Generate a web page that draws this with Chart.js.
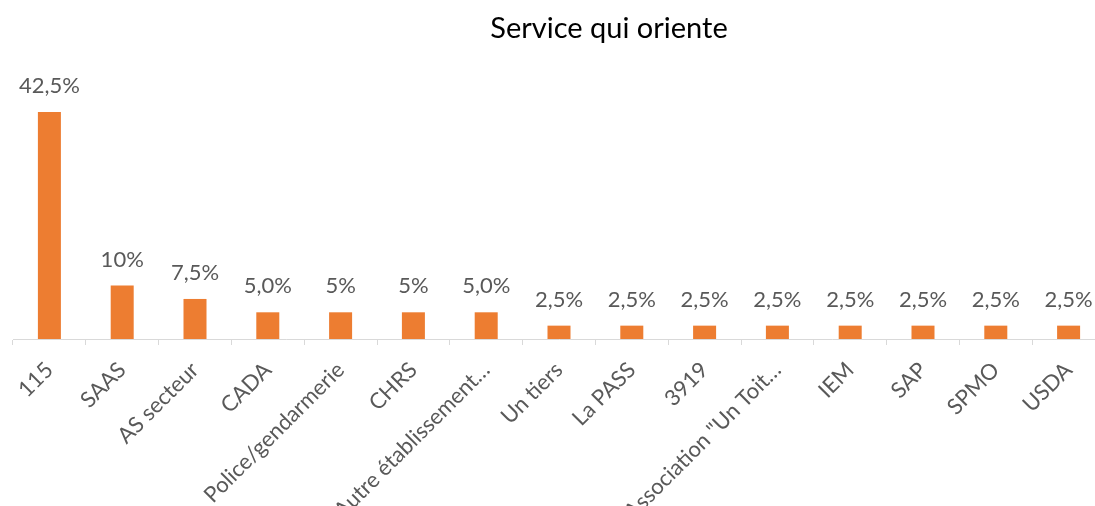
<!DOCTYPE html>
<html>
<head>
<meta charset="utf-8">
<script src="https://cdn.jsdelivr.net/npm/chart.js@4.4.0/dist/chart.umd.min.js"></script>
<style>
  html, body { margin: 0; padding: 0; background: #fff; overflow: hidden; }
  #wrap { width: 1095px; height: 506px; overflow: hidden; }
</style>
</head>
<body>
<div id="wrap"><canvas id="myChart" width="1110" height="506"></canvas></div>
<script>
var chartTitle = 'Service qui oriente';
var categories = ['115', 'SAAS', 'AS secteur', 'CADA', 'Police/gendarmerie', 'CHRS',
  'Autre établissement…', 'Un tiers', 'La PASS', '3919', 'Association "Un Toit…',
  'IEM', 'SAP', 'SPMO', 'USDA'];
var values = [42.5, 10, 7.5, 5, 5, 5, 5, 2.5, 2.5, 2.5, 2.5, 2.5, 2.5, 2.5, 2.5];
var valueLabels = ['42,5%', '10%', '7,5%', '5,0%', '5%', '5%', '5,0%', '2,5%', '2,5%',
  '2,5%', '2,5%', '2,5%', '2,5%', '2,5%', '2,5%'];

var FONT = 'Lato, "Open Sans", sans-serif';

// labels above each bar
var barLabels = {
  id: 'barLabels',
  afterDatasetsDraw: function(chart) {
    var ctx = chart.ctx;
    var meta = chart.getDatasetMeta(0);
    ctx.save();
    ctx.font = '22px ' + FONT;
    ctx.fillStyle = '#595959';
    ctx.textAlign = 'center';
    ctx.textBaseline = 'alphabetic';
    meta.data.forEach(function(bar, i) {
      ctx.fillText(valueLabels[i], bar.x, bar.y - 19);
    });
    ctx.restore();
  }
};

// title drawn by hand (it sits right of centre in the original)
var titleText = {
  id: 'titleText',
  afterDraw: function(chart) {
    var ctx = chart.ctx;
    ctx.save();
    ctx.font = '29px ' + FONT;
    ctx.fillStyle = '#000000';
    ctx.textAlign = 'center';
    ctx.textBaseline = 'alphabetic';
    ctx.fillText(chartTitle, 609, 38);
    ctx.restore();
  }
};

var ctx = document.getElementById('myChart').getContext('2d');
var chart = new Chart(ctx, {
  type: 'bar',
  data: {
    labels: categories,
    datasets: [{
      data: values,
      backgroundColor: '#ED7D31',
      borderWidth: 0,
      barPercentage: 0.316,
      categoryPercentage: 1
    }]
  },
  options: {
    responsive: false,
    animation: false,
    devicePixelRatio: 1,
    layout: { padding: { top: 72, left: 13, right: 5, bottom: 0 } },
    plugins: {
      legend: { display: false },
      title: { display: false },
      tooltip: { enabled: false }
    },
    scales: {
      x: {
        offset: true,
        grid: {
          offset: true,
          drawOnChartArea: false,
          drawTicks: true,
          tickLength: 6,
          color: '#d9d9d9'
        },
        border: { display: true, color: '#d9d9d9', width: 1 },
        ticks: {
          autoSkip: false,
          maxRotation: 45,
          minRotation: 45,
          padding: 12,
          color: '#595959',
          font: { family: FONT, size: 22 }
        },
        afterFit: function(scale) {
          scale.height = 506 - 339;
          scale.paddingLeft = 0;
          scale.paddingRight = 0;
        }
      },
      y: {
        display: false,
        min: 0,
        max: 50
      }
    }
  },
  plugins: [barLabels, titleText]
});
</script>
</body>
</html>
